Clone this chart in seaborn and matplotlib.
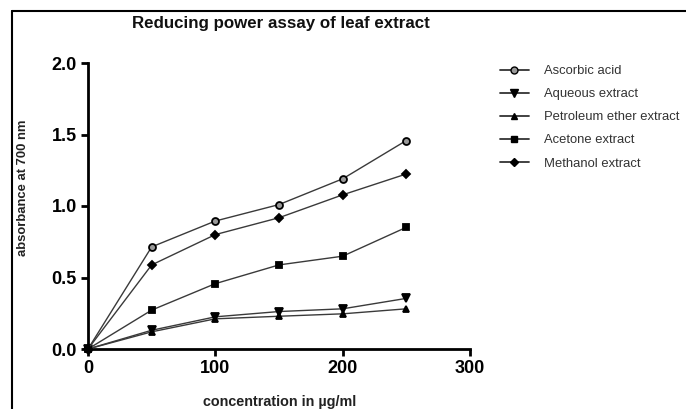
import numpy as np
import pandas as pd
import matplotlib
matplotlib.use("Agg")
import matplotlib.pyplot as plt
import seaborn as sns
from matplotlib.lines import Line2D

concentration = [0, 50, 100, 150, 200, 250]
ascorbic = [0.0, 0.714, 0.895, 1.01, 1.19, 1.458]
aqueous = [0.0, 0.131, 0.225, 0.262, 0.281, 0.354]
petroleum = [0.0, 0.12, 0.211, 0.229, 0.246, 0.281]
acetone = [0.0, 0.272, 0.457, 0.588, 0.649, 0.851]
methanol = [0.0, 0.588, 0.80, 0.918, 1.078, 1.224]

series_names = ["Ascorbic acid", "Aqueous extract", "Petroleum ether extract",
                "Acetone extract", "Methanol extract"]
series_values = [ascorbic, aqueous, petroleum, acetone, methanol]
x_ticks = [0, 100, 200, 300]
y_ticks = [0.0, 0.5, 1.0, 1.5, 2.0]

sns.set_style("ticks")
plt.rcParams['font.family'] = ['Liberation Sans', 'DejaVu Sans']

fig = plt.figure(figsize=(6.86, 4.09), dpi=100)
ax = fig.add_axes([88/686, (409-349)/409, (470-88)/686, (349-63)/409])

markers = ["o", "v", "^", "s", "D"]
msizes = [5, 6.3, 4.5, 4.5, 4.5]
for name, vals, m, ms in zip(series_names, series_values, markers, msizes):
    df = pd.DataFrame({"conc": concentration, "abs": vals})
    face = "#999999" if m == "o" else "black"
    sns.lineplot(data=df, x="conc", y="abs", ax=ax, color="#3a3a3a",
                 linewidth=1.0, marker=m, markersize=ms,
                 markerfacecolor=face, markeredgecolor="black",
                 markeredgewidth=1.3, label=name, clip_on=False, zorder=3)

ax.set_xlim(0, 300)
ax.set_ylim(0, 2.0)
ax.set_xticks(x_ticks)
ax.set_yticks(y_ticks)
ax.set_yticklabels([f"{v:.1f}" for v in y_ticks])
for s in ["top", "right"]:
    ax.spines[s].set_visible(False)
for s in ["left", "bottom"]:
    ax.spines[s].set_linewidth(2.0)
    ax.spines[s].set_color("black")
ax.tick_params(axis="both", direction="out", length=5, width=2, colors="black",
               labelsize=13, pad=3)
for lbl in ax.get_xticklabels() + ax.get_yticklabels():
    lbl.set_fontweight("bold")

ax.set_xlabel("")
ax.set_ylabel("")
fig.text(280/686, 1 - 406/409, "concentration in µg/ml", ha="center", va="baseline",
         fontsize=10.4, fontweight="bold", color="#222222")
fig.text(23/686, 1 - 188/409, "absorbance at 700 nm", ha="center", va="center",
         rotation=90, fontsize=9.4, fontweight="bold", color="#222222")
fig.text(280.5/686, 1 - 28/409, "Reducing power assay of leaf extract", ha="center",
         va="baseline", fontsize=12.2, fontweight="bold", color="#111111")

handles = []
for name, m, ms in zip(series_names, markers, msizes):
    face = "#999999" if m == "o" else "black"
    handles.append(Line2D([], [], color="#333333", linewidth=1.3, marker=m,
                          markersize=ms, markerfacecolor=face,
                          markeredgecolor="black", markeredgewidth=1.0))
ax.legend(handles, series_names, loc="upper left",
          bbox_to_anchor=(500/686, 1 - 65/409), bbox_transform=fig.transFigure,
          frameon=False, fontsize=9.4, handlelength=2.2, labelspacing=0.84,
          handletextpad=1.2, borderaxespad=0, borderpad=0, labelcolor="#333333")

# outer frame (left and top)
fig.add_artist(Line2D([11.5/686, 11.5/686], [0, 1 - 11/409], transform=fig.transFigure,
                      color="black", linewidth=1.5))
fig.add_artist(Line2D([11.5/686, 1], [1 - 11/409, 1 - 11/409], transform=fig.transFigure,
                      color="black", linewidth=1.5))

fig.savefig("out.png", dpi=100)
